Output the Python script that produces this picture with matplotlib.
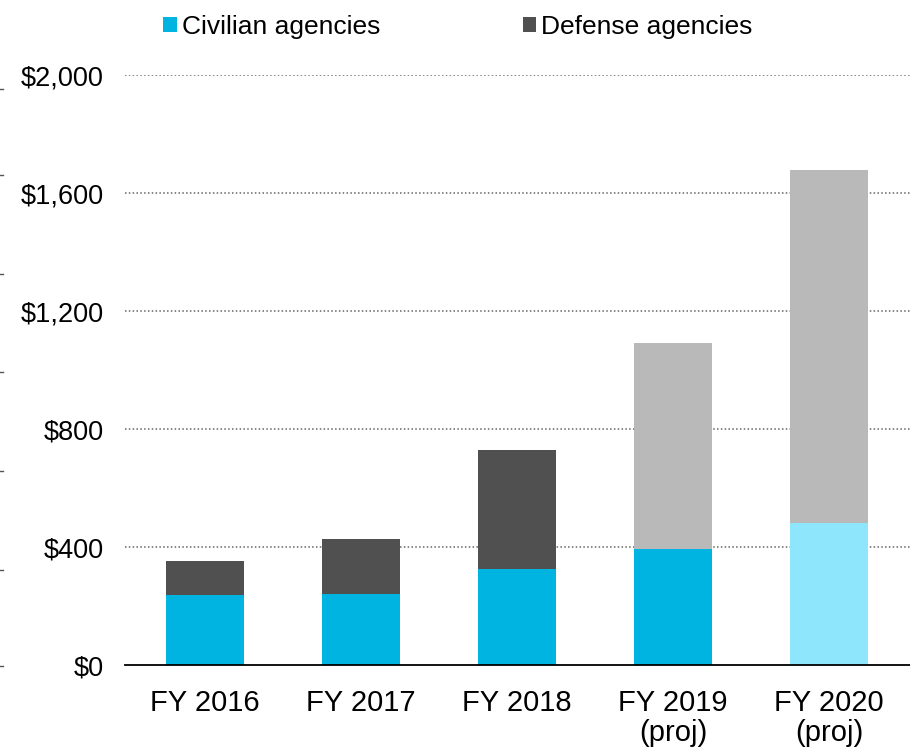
import matplotlib
matplotlib.use("Agg")
import matplotlib.pyplot as plt
from matplotlib.lines import Line2D
from matplotlib.patches import Patch

categories = ["FY 2016", "FY 2017", "FY 2018", "FY 2019\n(proj)", "FY 2020\n(proj)"]
civilian = [236, 241, 324, 392, 480]
defense = [116, 187, 405, 700, 1197]
y_ticks = [0, 400, 800, 1200, 1600, 2000]
y_tick_labels = ["$0", "$400", "$800", "$1,200", "$1,600", "$2,000"]

civ_colors = ["#00B4E1", "#00B4E1", "#00B4E1", "#00B4E1", "#8EE6FC"]
def_colors = ["#505050", "#505050", "#505050", "#B9B9B9", "#B9B9B9"]

plt.rcParams["font.family"] = ["Liberation Sans", "DejaVu Sans"]

fig = plt.figure(figsize=(9.1, 7.54), dpi=100)
ax = fig.add_axes([125 / 910, 1 - 665 / 754, 785 / 910, 590 / 754])

x = list(range(len(categories)))
ax.bar(x, civilian, width=0.5, color=civ_colors, zorder=3)
ax.bar(x, defense, width=0.5, bottom=civilian, color=def_colors, zorder=3)

ax.set_xlim(-0.515, 4.52)
ax.set_ylim(0, 2000)
ax.set_yticks(y_ticks)
ax.set_yticklabels(y_tick_labels, fontsize=19.5)
ax.set_xticks(x)
ax.set_xticklabels(categories, fontsize=21, linespacing=1.13)
ax.tick_params(axis="both", length=0)
ax.tick_params(axis="y", pad=15.5)
ax.tick_params(axis="x", pad=17)

for t in y_ticks[1:]:
    ax.axhline(t, color="#666666", linestyle=(0, (1, 1.5)), linewidth=1.1, zorder=1)

for s in ["top", "right", "left"]:
    ax.spines[s].set_visible(False)
ax.spines["bottom"].set_color("black")
ax.spines["bottom"].set_linewidth(1.3)
ax.spines["bottom"].set_zorder(4)

# legend
handles = [Patch(facecolor="#00B4E1", label="Civilian agencies"),
           Patch(facecolor="#505050", label="Defense agencies")]
fig.legend(handles=handles, loc="center", bbox_to_anchor=(458 / 910, 1 - 27 / 754),
           ncol=2, frameon=False, fontsize=19, handlelength=0.5, handleheight=0.5,
           handletextpad=0.2, columnspacing=5.4, borderaxespad=0)

# small marks at left figure edge
for yp in [89, 175, 274, 372, 471, 570, 666]:
    fig.add_artist(Line2D([0, 3 / 910], [1 - yp / 754, 1 - yp / 754],
                          color="#555555", linewidth=1, transform=fig.transFigure))

fig.savefig("out.png", dpi=100)
